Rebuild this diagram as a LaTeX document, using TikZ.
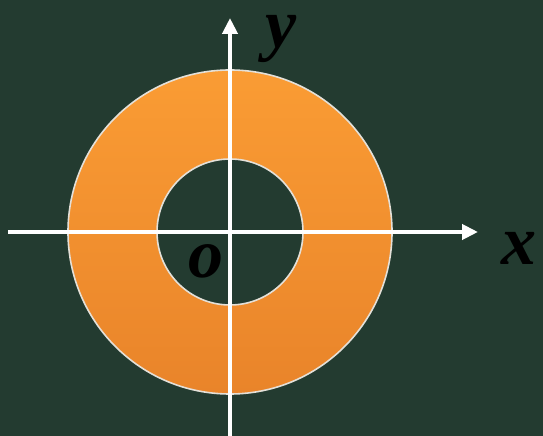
\documentclass[tikz,border=0pt]{standalone}
\usepackage{fontspec}
\setmainfont{Liberation Serif}
\usetikzlibrary{arrows.meta}
\definecolor{board}{HTML}{233B30}
\definecolor{ringtop}{HTML}{FA9C34}
\definecolor{ringbot}{HTML}{E9842A}
\definecolor{ringedge}{HTML}{E4E0D8}

\begin{document}
\begin{tikzpicture}[x=1pt,y=1pt,
    axis/.style={white,line width=4.5pt,-{Triangle[width=15pt,length=16pt]}},
    lbl/.style={anchor=base,inner sep=0pt,font=\fontsize{70}{70}\selectfont\bfseries\itshape}]
    \fill[board] (0,0) rectangle (543,436);
    \useasboundingbox (0,0) rectangle (543,436);

    % ring
    \fill[top color=ringtop,bottom color=ringbot,even odd rule]
        (230,204) circle (162) (230,204) circle (73);
    \draw[ringedge,line width=1.6pt] (230,204) circle (162);
    \draw[ringedge,line width=1.6pt] (230,204) circle (73);

    % axes
    \coordinate (xs) at (8,204);
    \coordinate (xe) at (478,204);
    \coordinate (ys) at (230,0);
    \coordinate (ye) at (230,418);
    \draw[axis] (xs) -- (xe);
    \draw[axis] (ys) -- (ye);

    % labels
    \node[lbl] (ylab) at (281,388) {y};
    \node[lbl] (xlab) at (519,171) {x};
    \node[lbl] (olab) at (206,158) {o};
\end{tikzpicture}
\end{document}
